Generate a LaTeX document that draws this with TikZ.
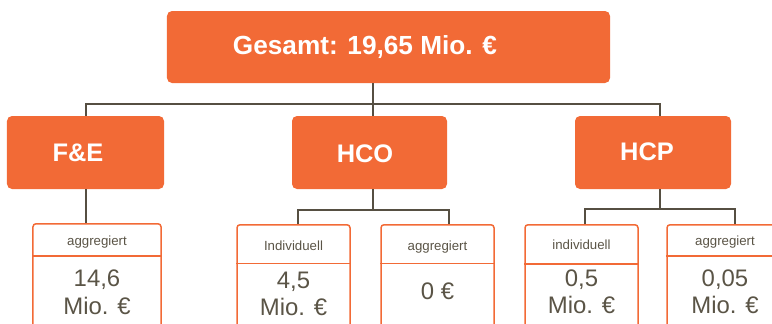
\documentclass[tikz,border=0pt]{standalone}
\usepackage{fontspec}
\setmainfont{Liberation Sans}
\definecolor{org}{HTML}{F26A36}
\definecolor{lin}{HTML}{564F42}
\definecolor{txt}{HTML}{5A5446}
\begin{document}
\begin{tikzpicture}[x=1bp,y=-1bp,
  catbox/.style={fill=org, draw=none, rounded corners=5bp, inner sep=0pt},
  cattext/.style={text=white, font=\fontsize{25.5}{30}\selectfont\bfseries, inner sep=0pt},
  conn/.style={draw=lin, line width=2bp},
  valbox/.style={draw=org, line width=1.5bp, rounded corners=3bp, inner sep=0pt, anchor=north, minimum height=120bp},
  divider/.style={draw=org, line width=1.6bp},
  hdr/.style={text=txt, font=\fontsize{13.3}{16}\selectfont, anchor=base, inner sep=0pt},
  val/.style={text=txt, font=\fontsize{24}{28}\selectfont, anchor=base, inner sep=0pt},
]
\useasboundingbox (0,0) rectangle (772,323);
\clip (0,0) rectangle (772,323);

% category boxes
\node[catbox, minimum width=443bp, minimum height=72bp] (top) at (388.5,47) {};
\node[catbox, minimum width=157bp, minimum height=73bp] (fe) at (85.5,152.5) {};
\node[catbox, minimum width=155bp, minimum height=73bp] (hco) at (369.5,152.5) {};
\node[catbox, minimum width=156bp, minimum height=73bp] (hcp) at (653,152.5) {};

\node[cattext, font=\fontsize{26.3}{30}\selectfont\bfseries] (toptxt) at (365,47) {Gesamt: 19,65 Mio. €};
\node[cattext] (fetxt) at (78,153) {F\&E};
\node[cattext] (hcotxt) at (365,154) {HCO};
\node[cattext] (hcptxt) at (647,152) {HCP};

% value boxes
\node[valbox, minimum width=128bp] (v1) at (97,223) {};
\node[valbox, minimum width=113bp] (v2) at (293.5,224) {};
\node[valbox, minimum width=113bp] (v3) at (437.5,224) {};
\node[valbox, minimum width=113bp] (v4) at (581.5,224) {};
\node[valbox, minimum width=116bp] (v5) at (725,224) {};

\draw[divider] (v1.west |- 0,256) -- (v1.east |- 0,256);
\draw[divider] (v2.west |- 0,263.5) -- (v2.east |- 0,263.5);
\draw[divider] (v3.west |- 0,263.5) -- (v3.east |- 0,263.5);
\draw[divider] (v4.west |- 0,264) -- (v4.east |- 0,264);
\draw[divider] (v5.west |- 0,256) -- (v5.east |- 0,256);

% connector taps
\coordinate (bus) at (373,104);
\coordinate (fetap) at (86,0);
\coordinate (hcptap) at (660,0);
\coordinate (hbus) at (373,210);
\coordinate (t2) at (298,0);
\coordinate (t3) at (449,0);
\coordinate (pbus) at (660,209);
\coordinate (t4) at (585,0);
\coordinate (t5) at (735,0);

\draw[conn] (top.south -| bus) -- (hco.north -| bus);
\draw[conn] (fe.north -| fetap) |- (bus) -| (hcp.north -| hcptap);
\draw[conn] (fe.south -| fetap) -- (v1.north -| fetap);
\draw[conn] (hco.south -| hbus) -- (hbus);
\draw[conn] (v2.north -| t2) |- (hbus) -| (v3.north -| t3);
\draw[conn] (hcp.south -| pbus) -- (pbus);
\draw[conn] (v4.north -| t4) |- (pbus) -| (v5.north -| t5);

% texts
\node[hdr] (h1) at (97,245.5) {aggregiert};
\node[hdr] (h2) at (293.5,250) {Individuell};
\node[hdr] (h3) at (437.5,250) {aggregiert};
\node[hdr] (h4) at (581.5,249) {individuell};
\node[hdr] (h5) at (725,245.5) {aggregiert};

\node[val] (a1) at (97,286) {14,6};
\node[val] (b1) at (97,314) {Mio. €};
\node[val] (a2) at (293.5,288) {4,5};
\node[val] (b2) at (293.5,315) {Mio. €};
\node[val] (a3) at (437.5,299) {0 €};
\node[val] (a4) at (581.5,286) {0,5};
\node[val] (b4) at (581.5,313) {Mio. €};
\node[val] (a5) at (725,286) {0,05};
\node[val] (b5) at (725,313) {Mio. €};
\end{tikzpicture}
\end{document}
